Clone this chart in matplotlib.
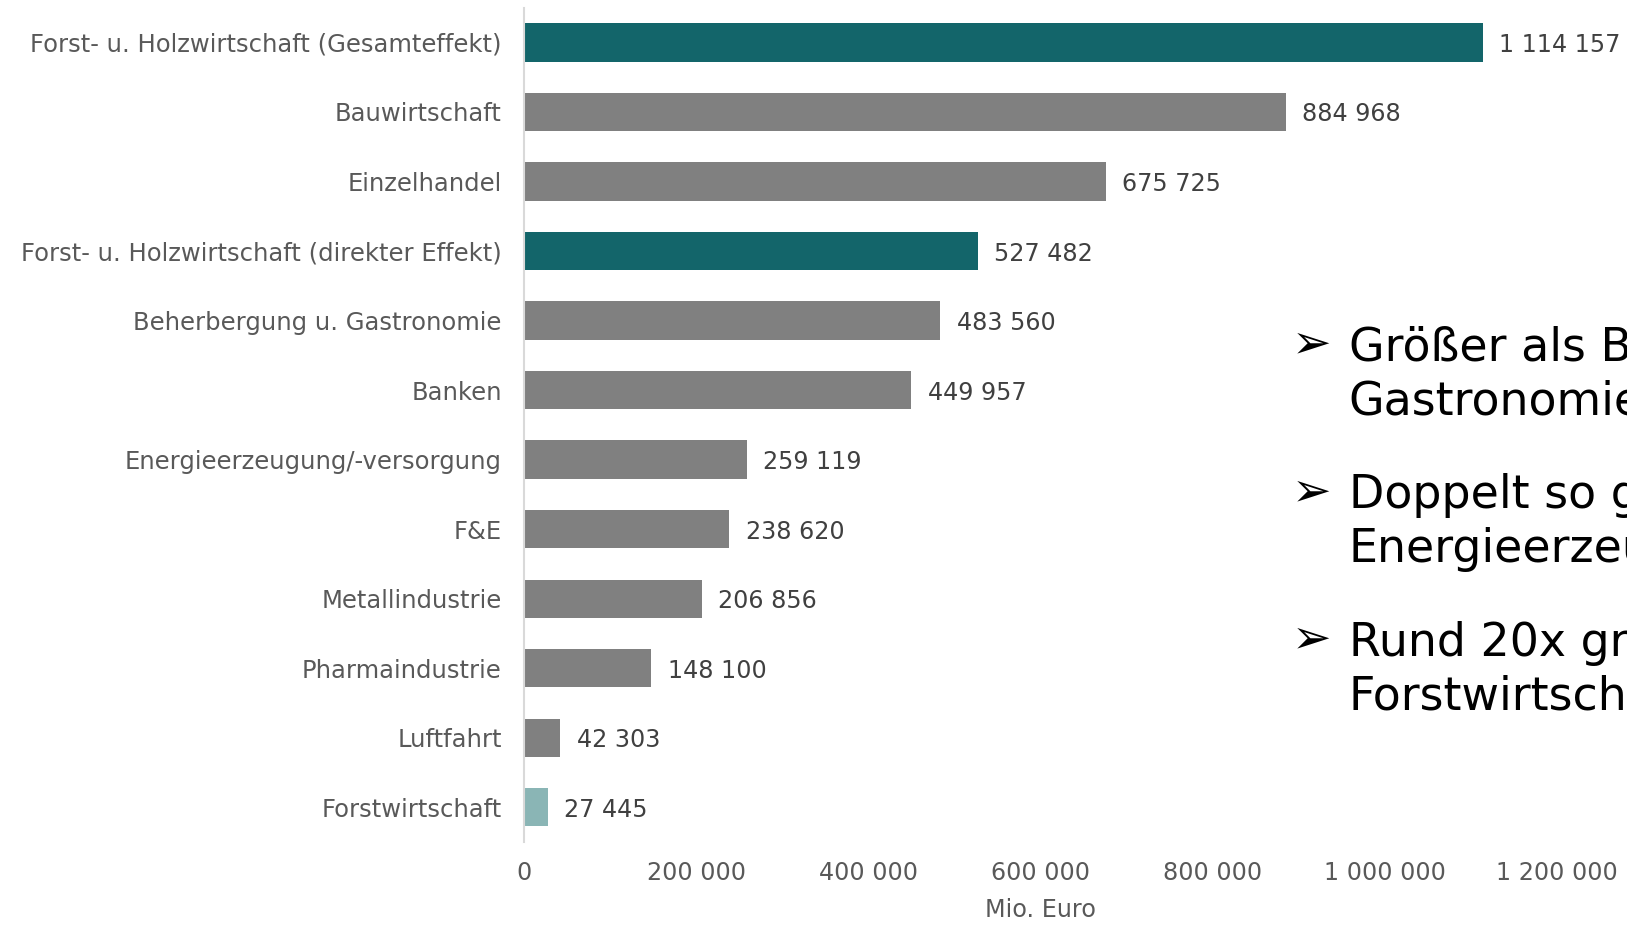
#!/usr/bin/env python3
import matplotlib
matplotlib.use('Agg')
import matplotlib.pyplot as plt
from matplotlib.ticker import FuncFormatter

# %%
categories = ['Forst- u. Holzwirtschaft (Gesamteffekt)', 'Bauwirtschaft', 'Einzelhandel',
              'Forst- u. Holzwirtschaft (direkter Effekt)', 'Beherbergung u. Gastronomie', 'Banken',
              'Energieerzeugung/-versorgung', 'F&E', 'Metallindustrie', 'Pharmaindustrie',
              'Luftfahrt', 'Forstwirtschaft']
values = [1114157, 884968, 675725, 527482, 483560, 449957, 259119, 238620, 206856, 148100, 42303, 27445]
groups = ['holz', 'other', 'other', 'holz', 'other', 'other', 'other', 'other', 'other', 'other', 'other', 'forst']
bullets = ['Größer als Beherbergung u.\nGastronomie',
           'Doppelt so groß wie\nEnergieerzeugung',
           'Rund 20x größer als\nForstwirtschaft']

colors = {'holz': '#13656A', 'other': '#808080', 'forst': '#8AB5B5'}


def fmt(v):
    return format(int(v), ',').replace(',', ' ')


# %%
fig = plt.figure(figsize=(16.27, 9.25), dpi=100)
ax = fig.add_axes([0.322, 0.0897, 0.635, 0.902])

fs = 17.2
pos = list(range(len(values)))
ax.barh(pos, values, height=0.55, color=[colors[g] for g in groups])
ax.set_ylim(len(values) - 0.5, -0.5)
ax.set_xlim(0, 1200000)
ax.set_yticks(pos)
ax.set_yticklabels(categories, fontsize=17.5, color='#595959')
ax.set_xticks(range(0, 1200001, 200000))
ax.xaxis.set_major_formatter(FuncFormatter(lambda x, p: fmt(x)))
ax.tick_params(axis='x', labelsize=fs, labelcolor='#595959', length=0, pad=14)
ax.tick_params(axis='y', length=0, pad=16)
ax.set_xlabel('Mio. Euro', fontsize=fs, color='#595959', labelpad=9)

for s in ['top', 'right', 'bottom']:
    ax.spines[s].set_visible(False)
ax.spines['left'].set_color('#D9D9D9')
ax.spines['left'].set_linewidth(1.5)

for p, v in zip(pos, values):
    ax.text(v + 19000, p, fmt(v), va='center_baseline', ha='left', fontsize=fs, color='#404040', clip_on=False)

# bullet text on the right (cut off at the figure edge like the slide)
for i, b in enumerate(bullets):
    y = 0.627 - i * 0.1595
    fig.text(0.794, y, '➢', fontsize=34, va='center', ha='left', color='black')
    fig.text(0.829, y + 0.021, b, fontsize=33, va='top', ha='left', color='black',
             linespacing=1.25)

fig.savefig('out.png', dpi=100)
